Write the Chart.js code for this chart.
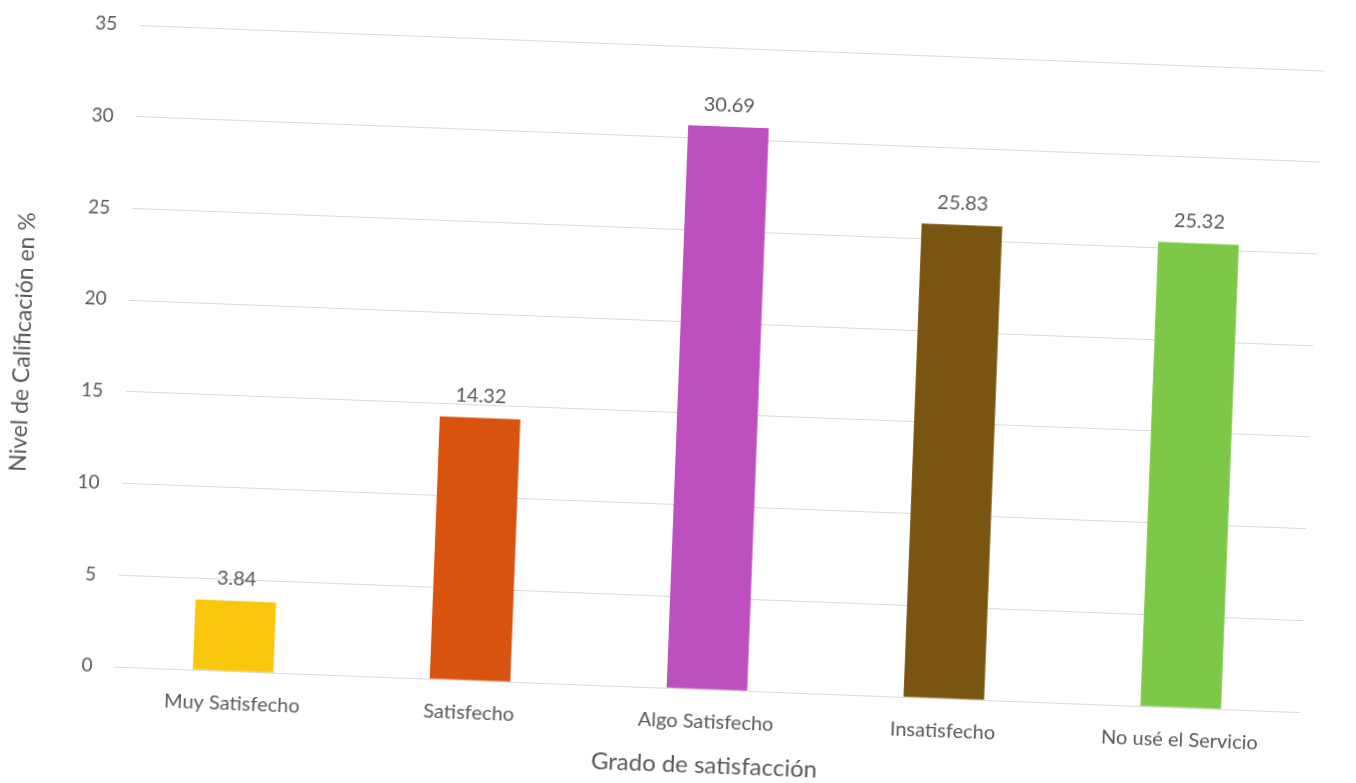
<!DOCTYPE html>
<html>
<head>
<meta charset="utf-8">
<script src="https://cdn.jsdelivr.net/npm/chart.js@4.4.1/dist/chart.umd.min.js"></script>
<style>
  html, body { margin: 0; padding: 0; background: #fff; overflow: hidden; }
  #wrap { width: 1356px; height: 783px; transform: rotate(2.2deg); transform-origin: 50% 50%; }
</style>
</head>
<body>
<div id="wrap"><canvas id="chart" width="1356" height="783"></canvas></div>
<script>
const categories = ["Muy Satisfecho", "Satisfecho", "Algo Satisfecho", "Insatisfecho", "No usé el Servicio"];
const values = [3.84, 14.32, 30.69, 25.83, 25.32];
const barColors = ["#F8C70E", "#D7530F", "#BE4FBE", "#7A5411", "#7DC846"];

const TEXT = "#595959";
const FONT = "Lato, 'Open Sans', sans-serif";

// value labels above each bar
const barLabels = {
  id: "barLabels",
  afterDatasetsDraw(chart) {
    const ctx = chart.ctx;
    const meta = chart.getDatasetMeta(0);
    ctx.save();
    ctx.fillStyle = TEXT;
    ctx.font = "20px " + FONT;
    ctx.textAlign = "center";
    ctx.textBaseline = "bottom";
    meta.data.forEach((bar, i) => {
      ctx.fillText(values[i].toFixed(2), bar.x, bar.y - 12);
    });
    ctx.restore();
  }
};

new Chart(document.getElementById("chart"), {
  type: "bar",
  data: {
    labels: categories,
    datasets: [{
      data: values,
      backgroundColor: barColors,
      borderWidth: 0,
      categoryPercentage: 1,
      barPercentage: 0.34
    }]
  },
  options: {
    responsive: false,
    animation: false,
    layout: { padding: { top: 46, right: 45, left: 4, bottom: 0 } },
    plugins: {
      legend: { display: false },
      tooltip: { enabled: false }
    },
    scales: {
      y: {
        min: 0,
        max: 35,
        ticks: { stepSize: 5, color: TEXT, font: { size: 19, family: FONT }, padding: 22 },
        grid: { color: "#d9d9d9", lineWidth: 1, drawTicks: false },
        border: { display: false },
        title: { display: true, text: "Nivel de Calificación en %", color: TEXT, font: { size: 23, family: FONT }, padding: { bottom: 24 } }
      },
      x: {
        ticks: { color: TEXT, font: { size: 20, family: FONT }, padding: 12 },
        grid: { display: false },
        border: { display: true, color: "#d9d9d9" },
        title: { display: true, text: "Grado de satisfacción", color: TEXT, font: { size: 24, family: FONT }, padding: { top: 6 } }
      }
    }
  },
  plugins: [barLabels]
});
</script>
</body>
</html>
